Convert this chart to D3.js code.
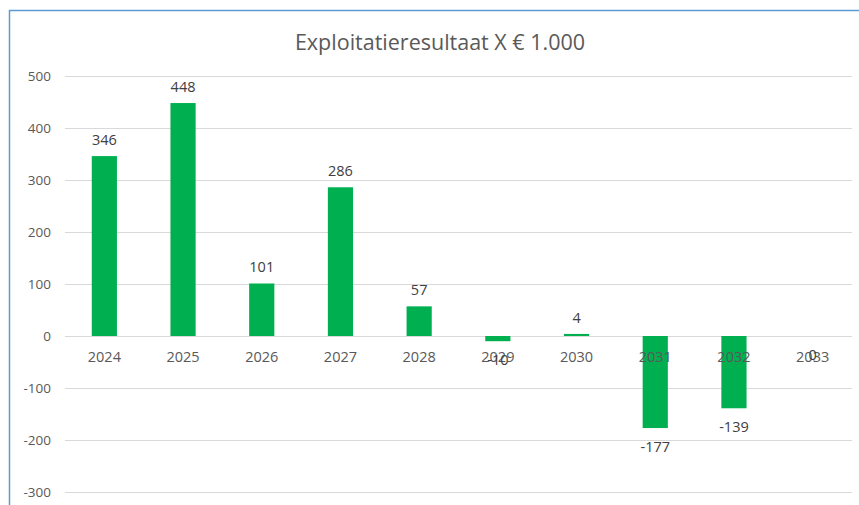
<!DOCTYPE html>
<html><head><meta charset="utf-8">
<script src="https://cdn.jsdelivr.net/npm/d3@7"></script>
<style>body{margin:0;background:#fff;} svg{display:block;}</style>
</head><body>
<svg id="c" width="859" height="505"></svg>
<script>
const title = "Exploitatieresultaat X € 1.000";
const categories = ["2024","2025","2026","2027","2028","2029","2030","2031","2032","2033"];
const values = [346, 448, 101, 286, 57, -10, 4, -177, -139, 0];
const yTicks = [-300, -200, -100, 0, 100, 200, 300, 400, 500];

const svg = d3.select("#c");
const W = 859, H = 505;
const left = 65, right = 852;
const font = "'Open Sans', sans-serif";
const txt = "#595959";

// frame
svg.append("path").attr("d", `M9.5,${H} V10.5 H${W}`).attr("fill","none").attr("stroke","#5b9bd5").attr("stroke-width",1.5);

const y = d3.scaleLinear().domain([-300, 500]).range([492, 76]);
const x = d3.scaleBand().domain(categories).range([left, right]).paddingInner(0.68).paddingOuter(0.34);

// gridlines
svg.append("g").selectAll("line").data(yTicks).join("line")
  .attr("x1", left).attr("x2", right)
  .attr("y1", d => Math.round(y(d)) + 0.5).attr("y2", d => Math.round(y(d)) + 0.5)
  .attr("stroke", "#d9d9d9").attr("stroke-width", 1.2);

// y axis labels
const yAxis = d3.axisLeft(y).tickValues(yTicks).tickSize(0).tickPadding(0).tickFormat(d => String(d));
const ga = svg.append("g").attr("transform", "translate(51,0)").call(yAxis);
ga.select(".domain").remove();
ga.selectAll("text").attr("font-family", font).attr("font-size", 13.5).attr("fill", txt);

// bars
svg.append("g").selectAll("rect").data(values).join("rect")
  .attr("x", (d,i) => x(categories[i]))
  .attr("width", x.bandwidth())
  .attr("y", d => y(Math.max(0, d)))
  .attr("height", d => Math.abs(y(d) - y(0)))
  .attr("fill", "#00b050");

// category labels (at zero line)
const xAxis = d3.axisBottom(x).tickSize(0).tickPadding(0);
const gx = svg.append("g").attr("transform", `translate(0,${y(0) + 16})`).call(xAxis);
gx.select(".domain").remove();
gx.selectAll("text").attr("font-family", font).attr("font-size", 14.5).attr("fill", txt);

// data labels
svg.append("g").selectAll("text").data(values).join("text")
  .attr("x", (d,i) => x(categories[i]) + x.bandwidth()/2)
  .attr("y", d => d > 0 ? y(d) - 11 : y(d) + 24)
  .attr("text-anchor", "middle")
  .attr("font-family", font).attr("font-size", 14.5).attr("fill", "#404040")
  .text(d => String(d));

// title
svg.append("text").attr("x", 440).attr("y", 50).attr("text-anchor","middle")
  .attr("font-family", font).attr("font-size", 21.5).attr("fill", txt).text(title);
</script>
</body></html>
